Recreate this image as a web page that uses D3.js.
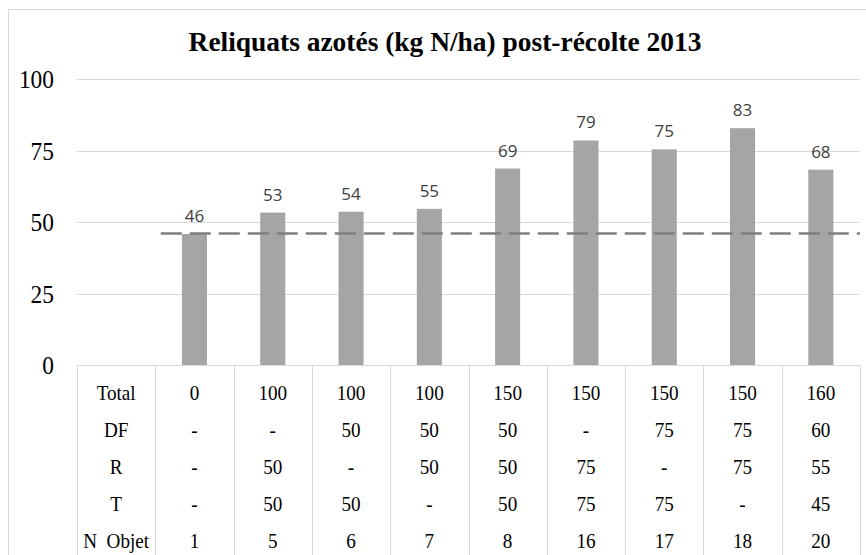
<!DOCTYPE html>
<html><head><meta charset="utf-8">
<script src="https://cdn.jsdelivr.net/npm/d3@7"></script>
<style>body{margin:0;background:#fff} svg{display:block}</style>
</head><body><div id="chart"></div>
<script>
const title = "Reliquats azotés (kg N/ha) post-récolte 2013";
const objetRow = ["1","5","6","7","8","16","17","18","20"];
const values = [45.8, 53.3, 53.6, 54.6, 68.7, 78.5, 75.4, 82.8, 68.3];
const valueLabels = ["46","53","54","55","69","79","75","83","68"];
const referenceValue = 46;
const rowHeaders = ["Total","DF","R","T","N  Objet"];
const totalRow = ["0","100","100","100","150","150","150","150","160"];
const dfRow = ["-","-","50","50","50","-","75","75","60"];
const rRow = ["-","50","-","50","50","75","-","75","55"];
const tRow = ["-","50","50","-","50","75","75","-","45"];
const yTicks = [0,25,50,75,100];

const W = 866, H = 555;
const svg = d3.select("#chart").append("svg").attr("width", W).attr("height", H);
const serif = "'Liberation Serif','Times New Roman',serif";
const grid = "#d9d9d9";

const keys = ["hdr"].concat(objetRow);
const x = d3.scaleBand().domain(keys).range([77, 860]);
const bw = x.bandwidth();
const y = d3.scaleLinear().domain([0, 100]).range([365, 79]);

function txt(g, s, px, py, opts) {
  const sx = opts.sx || 1;
  return g.append("text")
    .attr("transform", `translate(${px},${py}) scale(${sx},1)`)
    .attr("text-anchor", opts.anchor || "middle")
    .attr("font-family", opts.family || serif)
    .attr("font-size", opts.size)
    .attr("font-weight", opts.weight || "normal")
    .attr("fill", opts.fill || "#000")
    .attr("xml:space", "preserve")
    .style("white-space", "pre")
    .text(s);
}

// outer chart border
svg.append("rect").attr("x", 8.5).attr("y", 9.5).attr("width", 900).attr("height", 600)
  .attr("fill", "none").attr("stroke", grid);

// title
txt(svg, title, 445, 51, {size: 28, weight: "bold", sx: 0.98});

// gridlines
svg.append("g").selectAll("line").data(yTicks.filter(d => d > 0)).join("line")
  .attr("x1", x.range()[0]).attr("x2", x.range()[1])
  .attr("y1", d => Math.round(y(d)) + 0.5).attr("y2", d => Math.round(y(d)) + 0.5)
  .attr("stroke", grid).attr("stroke-width", 1);

// y tick labels
const yl = svg.append("g");
yTicks.forEach(t => txt(yl, String(t), 54, y(t) + 9, {size: 26, anchor: "end", sx: 0.9}));

// bars
const barW = bw * 0.32;
svg.append("g").selectAll("rect").data(values).join("rect")
  .attr("x", (d, i) => x(objetRow[i]) + (bw - barW) / 2)
  .attr("width", barW)
  .attr("y", d => y(d))
  .attr("height", d => y(0) - y(d))
  .attr("fill", "#a5a5a5");

// reference dashed line
svg.append("line")
  .attr("x1", x(objetRow[0]) + bw * 0.07).attr("x2", x.range()[1])
  .attr("y1", y(referenceValue)).attr("y2", y(referenceValue))
  .attr("stroke", "#7f7f7f").attr("stroke-width", 2.6)
  .attr("stroke-dasharray", "21,8");

// data labels
const dl = svg.append("g");
values.forEach((v, i) => txt(dl, valueLabels[i], x(objetRow[i]) + bw / 2, y(v) - 12,
  {size: 17, family: "'Open Sans','DejaVu Sans',sans-serif", fill: "#404040"}));

// table lines
const tl = svg.append("g").attr("stroke", grid).attr("stroke-width", 1);
tl.append("line").attr("x1", x.range()[0]).attr("x2", x.range()[1])
  .attr("y1", y(0) + 0.5).attr("y2", y(0) + 0.5);
keys.concat(["end"]).forEach((k, i) => {
  const xx = Math.round(i < keys.length ? x(k) : x.range()[1]) + 0.5;
  tl.append("line").attr("x1", xx).attr("x2", xx).attr("y1", y(0)).attr("y2", H);
});

// table text
const rows = [totalRow, dfRow, rRow, tRow, objetRow];
const ry = d3.scalePoint().domain(rowHeaders).range([400, 548]);
const tg = svg.append("g");
rowHeaders.forEach((h, r) => {
  txt(tg, h, x("hdr") + bw / 2, ry(h), {size: 22, sx: 0.87});
  rows[r].forEach((s, i) => txt(tg, s, x(objetRow[i]) + bw / 2, ry(h), {size: 22, sx: 0.87}));
});
</script>
</body></html>
